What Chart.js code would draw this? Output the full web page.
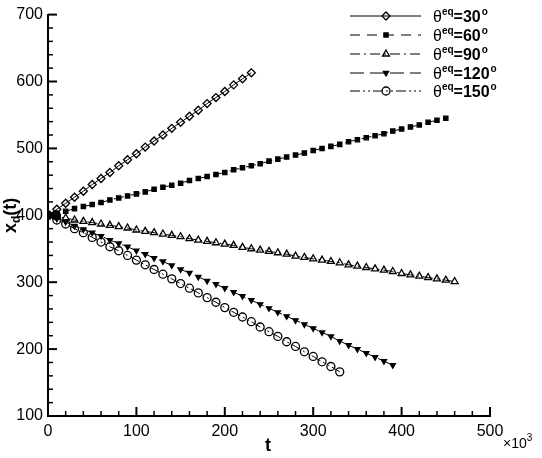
<!DOCTYPE html>
<html>
<head>
<meta charset="utf-8">
<script src="https://cdn.jsdelivr.net/npm/chart.js@4.4.1/dist/chart.umd.min.js"></script>
<style>
  html, body { margin: 0; padding: 0; background: #fff; }
  canvas { display: block; }
</style>
</head>
<body>
<canvas id="xdChart" width="542" height="458"></canvas>
<script>
// time samples (x10^3)
const tSteps = [0, 10, 20, 30, 40, 50, 60, 70, 80, 90, 100, 110, 120, 130, 140, 150, 160, 170, 180, 190,
  200, 210, 220, 230, 240, 250, 260, 270, 280, 290, 300, 310, 320, 330, 340, 350, 360, 370, 380, 390,
  400, 410, 420, 430, 440, 450, 460];

const x30 = [400, 409, 418, 427, 436, 446, 455, 464, 474, 483, 492, 502, 511, 520, 530, 539, 548, 557,
  567, 576, 585, 595, 604, 613];
const x60 = [400, 403, 406, 410, 413, 416, 419, 423, 426, 429, 432, 435, 439, 442, 445, 448, 452, 455,
  458, 461, 464, 468, 471, 474, 477, 481, 484, 487, 490, 493, 497, 500, 503, 506, 510, 513, 516, 519,
  522, 526, 529, 532, 535, 539, 542, 545];
const x90 = [400, 398, 396, 393, 391, 389, 387, 385, 383, 381, 378, 376, 374, 372, 370, 368, 365, 363,
  361, 359, 357, 355, 352, 350, 348, 346, 344, 342, 339, 337, 335, 333, 331, 329, 326, 324, 322, 320,
  318, 316, 313, 311, 309, 307, 305, 303, 301];
const x120 = [400, 395, 390, 384, 379, 374, 369, 363, 358, 353, 347, 342, 336, 331, 325, 319, 314, 308,
  302, 297, 291, 285, 279, 273, 267, 261, 255, 249, 243, 237, 231, 225, 219, 212, 206, 200, 194, 188,
  182, 176];
const x150 = [400, 393, 387, 380, 374, 367, 360, 353, 347, 340, 333, 326, 319, 312, 305, 298, 291, 284,
  277, 270, 262, 255, 248, 241, 233, 226, 219, 211, 204, 196, 189, 181, 174, 166];

const startT = [0, 9];
const startX = [400, 400];

const seriesNames = ['30', '60', '90', '120', '150'];
const xTicks = [0, 100, 200, 300, 400, 500];
const yTicks = [100, 200, 300, 400, 500, 600, 700];

function pts(vals) {
  return vals.map((v, i) => ({ x: tSteps[i], y: v }));
}

const styles = [
  { dash: [], pointStyle: 'rectRot', r: 4, fill: 'rgba(0,0,0,0)', rot: 0 },
  { dash: [10, 7], pointStyle: 'rect', r: 3, fill: '#000', rot: 0 },
  { dash: [10, 4, 2, 4], pointStyle: 'triangle', r: 4, fill: 'rgba(0,0,0,0)', rot: 0 },
  { dash: [14, 6], pointStyle: 'triangle', r: 3, fill: '#000', rot: 180 },
  { dash: [10, 3, 2, 3, 2, 3], pointStyle: 'circle', r: 4, fill: 'rgba(0,0,0,0)', rot: 0 }
];

const allSeries = [x30, x60, x90, x120, x150];

const datasets = allSeries.map((vals, i) => ({
  label: seriesNames[i],
  data: pts(vals),
  showLine: true,
  borderColor: '#000',
  borderWidth: 1,
  borderDash: styles[i].dash,
  pointStyle: styles[i].pointStyle,
  pointRadius: styles[i].r,
  pointRotation: styles[i].rot,
  pointBackgroundColor: styles[i].fill,
  pointBorderColor: '#000',
  pointBorderWidth: 1.3,
  tension: 0
}));

datasets.push({
  label: 'start',
  data: startT.map((t, i) => ({ x: t, y: startX[i] })),
  showLine: false,
  pointStyle: 'circle',
  pointRadius: 4.5,
  pointBackgroundColor: '#000',
  pointBorderColor: '#000'
});

const FONT = "'Liberation Sans', Arial, Helvetica, sans-serif";

function drawMarker(ctx, st, x, y) {
  const opts = {
    pointStyle: st.pointStyle, radius: st.r, rotation: st.rot, borderWidth: 1.3
  };
  ctx.save();
  ctx.setLineDash([]);
  ctx.strokeStyle = '#000';
  ctx.fillStyle = st.fill;
  ctx.lineWidth = 1.3;
  if (Chart.helpers && Chart.helpers.drawPoint) {
    Chart.helpers.drawPoint(ctx, opts, x, y);
  } else {
    ctx.beginPath();
    ctx.arc(x, y, st.r, 0, Math.PI * 2);
    ctx.fill();
    ctx.stroke();
  }
  ctx.restore();
}

const decorPlugin = {
  id: 'decor',
  afterDraw(chart) {
    const ctx = chart.ctx;
    const xs = chart.scales.x;
    const ys = chart.scales.y;
    const area = chart.chartArea;
    ctx.save();
    ctx.strokeStyle = '#000';

    // inward tick marks, majors every 100, minors every 20
    for (let v = 0; v <= 500; v += 20) {
      const px = xs.getPixelForValue(v);
      const major = v % 100 === 0;
      ctx.lineWidth = major ? 2 : 1.5;
      ctx.beginPath();
      ctx.moveTo(px, area.bottom);
      ctx.lineTo(px, area.bottom - (major ? 9 : 5));
      ctx.stroke();
    }
    for (let v = 100; v <= 700; v += 20) {
      const py = ys.getPixelForValue(v);
      const major = v % 100 === 0;
      ctx.lineWidth = major ? 2 : 1.5;
      ctx.beginPath();
      ctx.moveTo(area.left, py);
      ctx.lineTo(area.left + (major ? 9 : 5), py);
      ctx.stroke();
    }

    // axis titles
    ctx.fillStyle = '#000';
    ctx.textBaseline = 'alphabetic';
    ctx.textAlign = 'center';
    ctx.font = 'bold 18px ' + FONT;
    ctx.fillText('t', 268, 451);

    ctx.textAlign = 'left';
    ctx.font = '14px ' + FONT;
    ctx.fillText('\u00d710', 503, 448);
    const w10 = ctx.measureText('\u00d710').width;
    ctx.font = '10px ' + FONT;
    ctx.fillText('3', 503 + w10, 441);

    // y title, rotated: x_d(t)
    ctx.save();
    ctx.translate(16, 233);
    ctx.rotate(-Math.PI / 2);
    ctx.textAlign = 'left';
    ctx.font = 'bold 18px ' + FONT;
    ctx.fillText('x', 0, 0);
    let w = ctx.measureText('x').width;
    ctx.font = 'bold 12px ' + FONT;
    ctx.fillText('d', w, 4);
    w += ctx.measureText('d').width;
    ctx.font = 'bold 18px ' + FONT;
    ctx.fillText('(t)', w, 0);
    ctx.restore();

    // legend
    const rowY = [16, 35, 54, 73, 91];
    seriesNames.forEach((name, i) => {
      const y = rowY[i];
      const st = styles[i];
      ctx.save();
      ctx.lineWidth = 1;
      ctx.setLineDash(st.dash);
      ctx.beginPath();
      ctx.moveTo(350, y);
      ctx.lineTo(421, y);
      ctx.stroke();
      ctx.restore();
      drawMarker(ctx, st, 386, y);

      let x = 433;
      const base = y + 6;
      ctx.textAlign = 'left';
      ctx.font = '16px ' + FONT;
      ctx.fillText('\u03b8', x, base);
      x += ctx.measureText('\u03b8').width;
      ctx.font = 'bold 10px ' + FONT;
      ctx.fillText('eq', x, base - 7);
      x += ctx.measureText('eq').width;
      ctx.font = 'bold 16px ' + FONT;
      const txt = '=' + name;
      ctx.fillText(txt, x, base);
      x += ctx.measureText(txt).width + 1;
      ctx.font = 'bold 10px ' + FONT;
      ctx.fillText('o', x, base - 7);
    });

    ctx.restore();
  }
};

Chart.defaults.font.family = FONT;
Chart.defaults.font.size = 16;
Chart.defaults.color = '#000';

new Chart(document.getElementById('xdChart'), {
  type: 'scatter',
  data: { datasets: datasets },
  options: {
    responsive: false,
    animation: false,
    layout: { padding: { left: 0, right: 52, top: 14, bottom: 0 } },
    plugins: { legend: { display: false }, tooltip: { enabled: false } },
    scales: {
      x: {
        type: 'linear',
        min: 0,
        max: 500,
        afterBuildTicks: s => { s.ticks = xTicks.map(v => ({ value: v })); },
        afterFit: s => { s.height = 42; },
        grid: { display: false, drawTicks: false },
        border: { display: true, color: '#000', width: 2 },
        ticks: { padding: 6, color: '#000', font: { size: 16 } }
      },
      y: {
        type: 'linear',
        min: 100,
        max: 700,
        afterBuildTicks: s => { s.ticks = yTicks.map(v => ({ value: v })); },
        afterFit: s => { s.width = 48; },
        grid: { display: false, drawTicks: false },
        border: { display: true, color: '#000', width: 2 },
        ticks: { padding: 5, color: '#000', font: { size: 16 } }
      }
    }
  },
  plugins: [decorPlugin]
});
</script>
</body>
</html>
